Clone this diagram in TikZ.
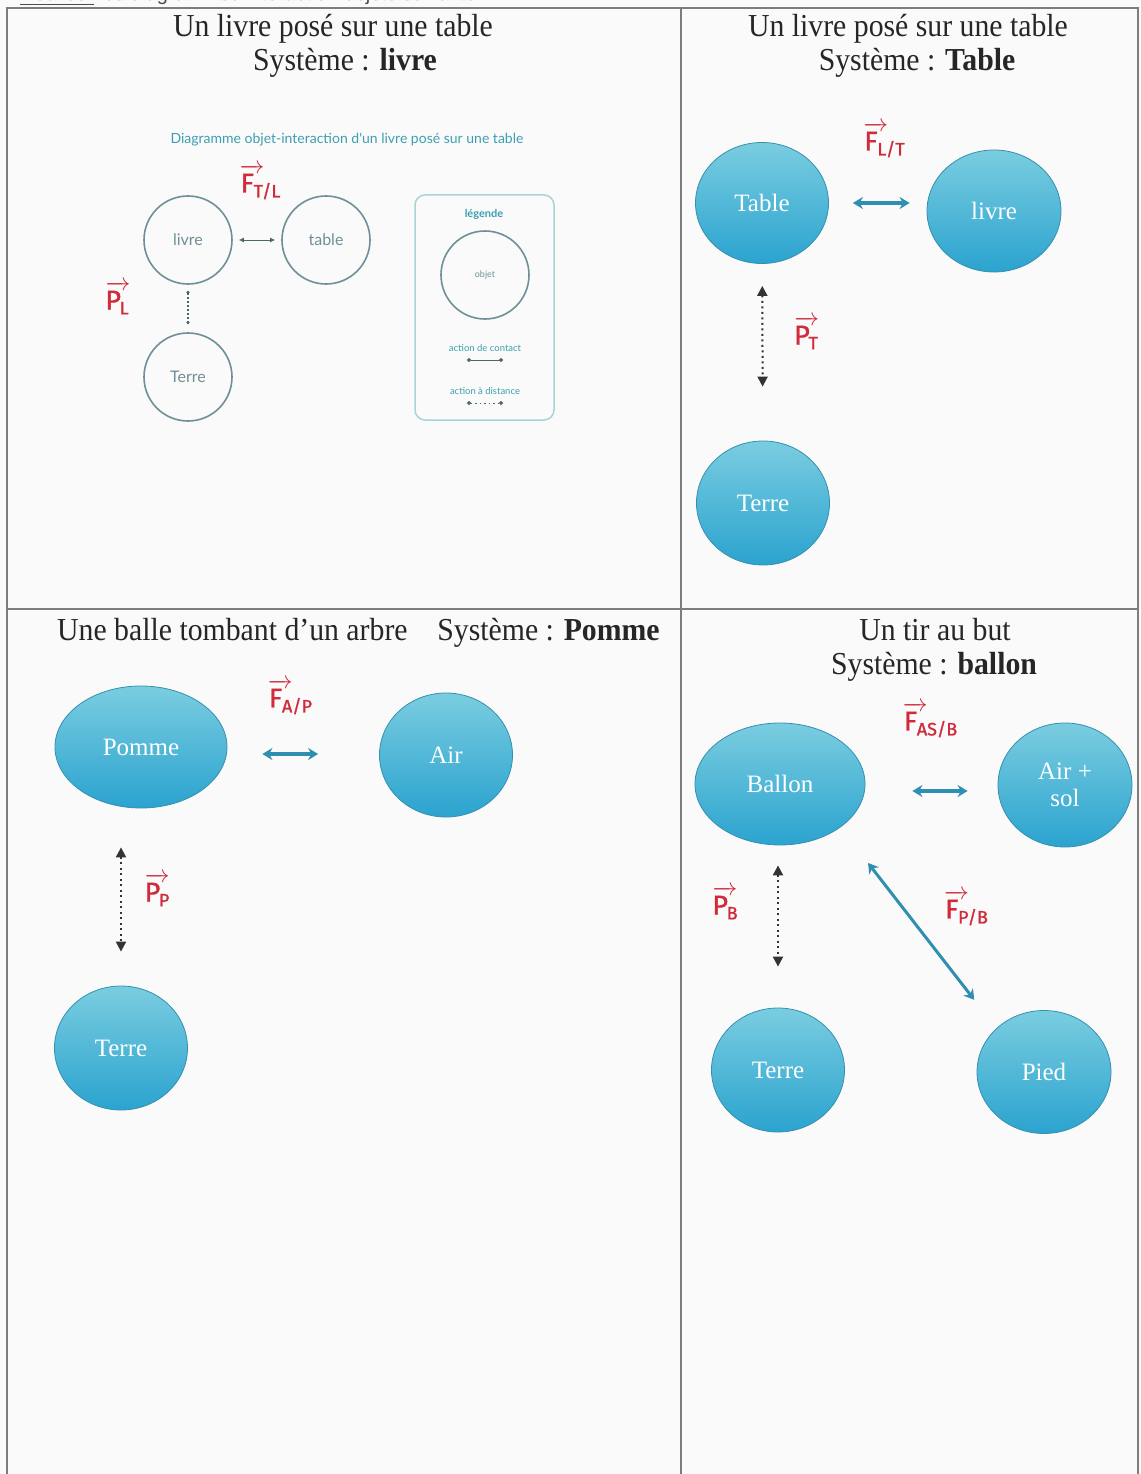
\documentclass[tikz,border=0pt]{standalone}
\usepackage{fontspec}
\usepackage{amsmath}
\usepackage{graphicx}
\setmainfont{Liberation Serif}
\newfontfamily\latof{Lato}
\newfontfamily\hwf[FakeBold=1.2]{Fira Sans}
\newfontfamily\arialf{Liberation Sans}
\usetikzlibrary{shapes.geometric,arrows.meta}
\definecolor{bgc}{HTML}{FAFAFA}
\definecolor{gridc}{HTML}{7D7D7D}
\definecolor{ctop}{HTML}{7ACDE0}
\definecolor{cbot}{HTML}{2BA3CF}
\definecolor{cedge}{HTML}{3590AE}
\definecolor{tealarr}{HTML}{2E8FB0}
\definecolor{redh}{HTML}{D02B3B}
\definecolor{dteal}{HTML}{3E9FB0}
\definecolor{dgray}{HTML}{6F9097}
\definecolor{ltealb}{HTML}{A9D3D8}
\newcommand\cond[1]{\scalebox{0.93}[1]{#1}}
\newcommand\vlab[2]{$\overrightarrow{\text{#1}\hspace{0.35em}}$\kern-0.4em\raisebox{-5pt}{\fontsize{18}{18}\selectfont #2}}
\tikzset{
  obj/.style={ellipse, draw=cedge, line width=0.8pt, top color=ctop, bottom color=cbot,
    text=white, font=\fontsize{25}{27}\selectfont, inner sep=0pt, align=center},
  cont/.style={draw=tealarr, line width=3.5pt, {Stealth[length=10pt,width=12pt]}-{Stealth[length=10pt,width=12pt]}},
  dist/.style={draw=black!80, line width=2pt, dash pattern=on 2pt off 3.5pt,
    {Triangle[length=10pt,width=10pt]}-{Triangle[length=10pt,width=10pt]}},
  ttl/.style={font=\fontsize{32}{34}\selectfont, anchor=base, inner sep=0pt, text=black!85},
  redlab/.style={text=redh, font=\hwf\fontsize{27}{29}\selectfont, inner sep=0pt},
  circ/.style={circle, draw=dgray, line width=1.6pt, minimum size=88pt, inner sep=0pt,
    text=dgray, font=\latof\fontsize{16}{18}\selectfont},
  gridline/.style={draw=gridc, line width=1.6pt}
}
\begin{document}
\begin{tikzpicture}[x=1pt,y=-1pt]
\useasboundingbox (0,0) rectangle (1140,1474);
\fill[bgc] (0,0) rectangle (1140,1474);

% cut-off instruction line at the very top
\begin{scope}
\clip (0,0) rectangle (1140,6);
\node[anchor=base west, inner sep=0pt, font=\arialf\fontsize{20}{20}\selectfont, text=black!70] (consigne) at (20,1) {\underline{Réaliser} les diagrammes interaction objets suivants :};
\end{scope}

% table grid
\draw[gridline] (7,1474) -- (7,8) -- (1138,8) -- (1138,1474);
\draw[gridline] (681,8) -- (681,1474);
\draw[gridline] (7,609) -- (1138,609);

% ---------- Panel 1 ----------
\node[ttl] (t1a) at (333,37) {\cond{Un livre posé sur une table}};
\node[ttl] (t1b) at (345,71) {\cond{Système : \textbf{livre}}};
\node[inner sep=0pt, text=dteal, font=\latof\fontsize{14}{16}\selectfont] (dtitle) at (347,140) {Diagramme objet-interaction d'un livre posé sur une table};
\node[circ] (livre1) at (188,240) {livre};
\node[circ] (table1) at (326,240) {table};
\node[circ] (terre1) at (188,377) {Terre};
\draw[draw=dgray!70!black, line width=1pt, {Latex[length=5pt,width=5pt]}-{Latex[length=5pt,width=5pt]}, shorten <=6pt, shorten >=6pt] (livre1) -- (table1);
\draw[draw=dgray!70!black, line width=1.2pt, dash pattern=on 1.5pt off 2.5pt, {Circle[length=3pt]}-{Circle[length=3pt]}, shorten <=6pt, shorten >=8pt] (livre1) -- (terre1);
\node[draw=ltealb, line width=1.5pt, rounded corners=10pt, minimum width=139pt, minimum height=225pt, inner sep=0pt] (legend) at (484.5,307.5) {};
\node[inner sep=0pt, text=dteal, font=\latof\bfseries\fontsize{11}{12}\selectfont] (leglab) at (484,214) {légende};
\node[circ] (objet) at (485,275) {\fontsize{9}{10}\selectfont objet};
\node[inner sep=0pt, text=dteal, font=\latof\fontsize{9.5}{10}\selectfont] (lcontact) at (485,348) {action de contact};
\coordinate (lc1) at (467,360);
\coordinate (lc2) at (503,360);
\draw[draw=dgray!70!black, line width=1pt, {Circle[length=4pt]}-{Circle[length=4pt]}] (lc1) -- (lc2);
\node[inner sep=0pt, text=dteal, font=\latof\fontsize{9.5}{10}\selectfont] (ldist) at (485,391) {action à distance};
\coordinate (ld1) at (467,403);
\coordinate (ld2) at (503,403);
\draw[draw=dgray!70!black, line width=1pt, dash pattern=on 1.5pt off 3pt, {Circle[length=4pt]}-{Circle[length=4pt]}] (ld1) -- (ld2);
\node[redlab] (fTL) at (260,182) {\vlab{F}{T/L}};
\node[redlab] (pL) at (117,298) {\vlab{P}{L}};

% ---------- Panel 2 ----------
\node[ttl] (t2a) at (908,37) {\cond{Un livre posé sur une table}};
\node[ttl] (t2b) at (917,71) {\cond{Système : \textbf{Table}}};
\node[obj, minimum width=133pt, minimum height=121pt] (table2) at (762,203) {Table};
\node[obj, minimum width=134pt, minimum height=122pt] (livre2) at (994,211) {livre};
\node[obj, minimum width=133pt, minimum height=124pt] (terre2) at (763,503) {Terre};
\draw[cont, shorten <=24pt, shorten >=17pt] (table2.east) -- (table2.east -| livre2.west);
\draw[dist, shorten <=22pt, shorten >=54pt] (table2) -- (terre2);
\node[redlab] (fLT) at (884,140) {\vlab{F}{L/T}};
\node[redlab] (pT) at (806,333) {\vlab{P}{T}};

% ---------- Panel 3 ----------
\node[ttl, anchor=base west] (t3a) at (57,640) {\cond{Une balle tombant d'un arbre\quad Système : \textbf{Pomme}}};
\node[obj, minimum width=172pt, minimum height=122pt] (pomme) at (141,747) {Pomme};
\node[obj, minimum width=133pt, minimum height=124pt] (air3) at (446,755) {Air};
\node[obj, minimum width=133pt, minimum height=124pt] (terre3) at (121,1048) {Terre};
\draw[cont, shorten <=35pt, shorten >=61pt] ([yshift=-7pt]pomme.east) -- ([yshift=-7pt]pomme.east -| air3.west);
\draw[dist, shorten <=39pt, shorten >=34pt] (terre3.north |- pomme.south) -- (terre3.north);
\node[redlab] (fAP) at (290,697) {\vlab{F}{A/P}};
\node[redlab] (pP) at (157,890) {\vlab{P}{P}};

% ---------- Panel 4 ----------
\node[ttl] (t4a) at (935,640) {\cond{Un tir au but}};
\node[ttl] (t4b) at (934,674) {\cond{Système : \textbf{ballon}}};
\node[obj, minimum width=170pt, minimum height=122pt] (ballon) at (780,784) {Ballon};
\node[obj, minimum width=134pt, minimum height=124pt] (airsol) at (1065,785) {Air +\\sol};
\node[obj, minimum width=133pt, minimum height=124pt] (terre4) at (778,1070) {Terre};
\node[obj, minimum width=134pt, minimum height=123pt] (pied) at (1044,1072) {Pied};
\draw[cont, shorten <=47pt, shorten >=30pt] ([yshift=-7pt]ballon.east) -- ([yshift=-7pt]ballon.east -| airsol.west);
\draw[dist, shorten <=20pt, shorten >=41pt] (terre4.north |- ballon.south) -- (terre4.north);
\draw[cont, line width=3pt, shorten <=45pt, shorten >=36pt] (ballon.south east) -- (pied.north west);
\node[redlab] (fASB) at (930,720) {\vlab{F}{AS/B}};
\node[redlab] (pB) at (725,903) {\vlab{P}{B}};
\node[redlab] (fPB) at (966,908) {\vlab{F}{P/B}};
\end{tikzpicture}
\end{document}
